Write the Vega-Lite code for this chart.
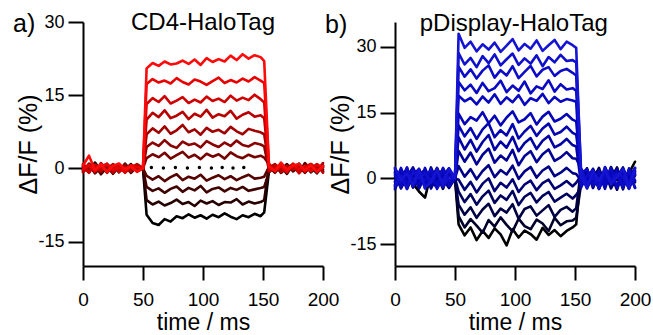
{
"$schema":"https://vega.github.io/schema/vega-lite/v6.json",
"padding":{"left":13,"top":11,"right":0,"bottom":0},
"autosize":{"type":"pad"},
"bounds":"flush",
"spacing":72,
"background":"white",
"resolve":{"scale":{"color":"independent","x":"independent","y":"independent"}},
"config":{
"view":{"stroke":null},
"font":"Liberation Sans",
"axis":{"domainColor":"#000","domainWidth":2,"tickColor":"#000","tickWidth":2,"labelColor":"#000","titleColor":"#000","titleFontWeight":"normal","grid":false,"labelFont":"Liberation Sans","titleFont":"Liberation Sans","labelFlush":false,"labelOverlap":false,"labelExpr":"replace(datum.label, '−', '-')"},
"axisX":{"tickSize":14,"labelFontSize":19,"labelPadding":10,"titleFontSize":23,"titlePadding":2},
"axisY":{"tickSize":15,"labelFontSize":18,"labelPadding":4,"titleFontSize":25,"titlePadding":-4}
},
"datasets":{
"a":[
{"s":1,"t":0,"v":0.3},{"s":1,"t":5,"v":-0.8},{"s":1,"t":10,"v":1.2},{"s":1,"t":15,"v":-0.5},{"s":1,"t":20,"v":0.6},{"s":1,"t":25,"v":-1.1},{"s":1,"t":30,"v":0.4},{"s":1,"t":35,"v":-0.3},{"s":1,"t":40,"v":0.9},{"s":1,"t":45,"v":-0.6},{"s":1,"t":50,"v":0},
{"s":1,"t":53,"v":-9.5},{"s":1,"t":58,"v":-11.2},{"s":1,"t":63,"v":-11.6},{"s":1,"t":68,"v":-10.4},{"s":1,"t":73,"v":-10.9},{"s":1,"t":78,"v":-9.8},{"s":1,"t":83,"v":-10.2},{"s":1,"t":88,"v":-9.4},{"s":1,"t":93,"v":-10.1},{"s":1,"t":98,"v":-9.6},{"s":1,"t":103,"v":-10.3},{"s":1,"t":108,"v":-9.5},{"s":1,"t":113,"v":-10},{"s":1,"t":118,"v":-9.2},{"s":1,"t":123,"v":-9.9},{"s":1,"t":128,"v":-10.4},{"s":1,"t":133,"v":-9.6},{"s":1,"t":138,"v":-10},{"s":1,"t":143,"v":-9.3},{"s":1,"t":148,"v":-9.8},{"s":1,"t":151,"v":-9},
{"s":1,"t":155,"v":-0.5},{"s":1,"t":160,"v":0.8},{"s":1,"t":165,"v":-0.9},{"s":1,"t":170,"v":0.4},{"s":1,"t":175,"v":-0.3},{"s":1,"t":180,"v":1},{"s":1,"t":185,"v":-0.7},{"s":1,"t":190,"v":0.2},{"s":1,"t":195,"v":-1},{"s":1,"t":200,"v":0.5},
{"s":2,"t":0,"v":-0.4},{"s":2,"t":5,"v":0.7},{"s":2,"t":10,"v":-1},{"s":2,"t":15,"v":0.3},{"s":2,"t":20,"v":-0.6},{"s":2,"t":25,"v":0.9},{"s":2,"t":30,"v":-0.2},{"s":2,"t":35,"v":0.5},{"s":2,"t":40,"v":-0.9},{"s":2,"t":45,"v":0.4},{"s":2,"t":50,"v":0},
{"s":2,"t":53,"v":-6.5},{"s":2,"t":58,"v":-7.4},{"s":2,"t":63,"v":-6.8},{"s":2,"t":68,"v":-7.6},{"s":2,"t":73,"v":-7.1},{"s":2,"t":78,"v":-6.4},{"s":2,"t":83,"v":-7.3},{"s":2,"t":88,"v":-6.9},{"s":2,"t":93,"v":-7.7},{"s":2,"t":98,"v":-6.6},{"s":2,"t":103,"v":-7.2},{"s":2,"t":108,"v":-6.7},{"s":2,"t":113,"v":-7.5},{"s":2,"t":118,"v":-6.9},{"s":2,"t":123,"v":-7},{"s":2,"t":128,"v":-6.3},{"s":2,"t":133,"v":-7.4},{"s":2,"t":138,"v":-6.8},{"s":2,"t":143,"v":-7.2},{"s":2,"t":148,"v":-6.9},{"s":2,"t":151,"v":-6.5},
{"s":2,"t":155,"v":0.6},{"s":2,"t":160,"v":-0.7},{"s":2,"t":165,"v":0.3},{"s":2,"t":170,"v":-1.1},{"s":2,"t":175,"v":0.8},{"s":2,"t":180,"v":-0.2},{"s":2,"t":185,"v":0.6},{"s":2,"t":190,"v":-0.8},{"s":2,"t":195,"v":0.4},{"s":2,"t":200,"v":-0.3},
{"s":3,"t":0,"v":0.8},{"s":3,"t":5,"v":-0.3},{"s":3,"t":10,"v":0.5},{"s":3,"t":15,"v":-1.2},{"s":3,"t":20,"v":0.2},{"s":3,"t":25,"v":0.7},{"s":3,"t":30,"v":-0.8},{"s":3,"t":35,"v":1},{"s":3,"t":40,"v":-0.4},{"s":3,"t":45,"v":0.3},{"s":3,"t":50,"v":0},
{"s":3,"t":53,"v":-3.8},{"s":3,"t":58,"v":-4.6},{"s":3,"t":63,"v":-4.1},{"s":3,"t":68,"v":-5},{"s":3,"t":73,"v":-4.2},{"s":3,"t":78,"v":-3.7},{"s":3,"t":83,"v":-4.8},{"s":3,"t":88,"v":-4},{"s":3,"t":93,"v":-4.5},{"s":3,"t":98,"v":-3.6},{"s":3,"t":103,"v":-4.9},{"s":3,"t":108,"v":-4.2},{"s":3,"t":113,"v":-3.9},{"s":3,"t":118,"v":-4.7},{"s":3,"t":123,"v":-4},{"s":3,"t":128,"v":-4.4},{"s":3,"t":133,"v":-3.8},{"s":3,"t":138,"v":-4.6},{"s":3,"t":143,"v":-4.3},{"s":3,"t":148,"v":-4},{"s":3,"t":151,"v":-3.8},
{"s":3,"t":155,"v":-0.8},{"s":3,"t":160,"v":0.4},{"s":3,"t":165,"v":-0.2},{"s":3,"t":170,"v":0.9},{"s":3,"t":175,"v":-0.6},{"s":3,"t":180,"v":0.3},{"s":3,"t":185,"v":-0.9},{"s":3,"t":190,"v":0.7},{"s":3,"t":195,"v":-0.1},{"s":3,"t":200,"v":0.6},
{"s":4,"t":0,"v":-0.6},{"s":4,"t":5,"v":1},{"s":4,"t":10,"v":-0.2},{"s":4,"t":15,"v":0.6},{"s":4,"t":20,"v":-0.9},{"s":4,"t":25,"v":0.4},{"s":4,"t":30,"v":0.2},{"s":4,"t":35,"v":-0.7},{"s":4,"t":40,"v":0.5},{"s":4,"t":45,"v":-0.2},{"s":4,"t":50,"v":0},
{"s":4,"t":53,"v":-1.5},{"s":4,"t":58,"v":-2.3},{"s":4,"t":63,"v":-1.6},{"s":4,"t":68,"v":-2.6},{"s":4,"t":73,"v":-1.8},{"s":4,"t":78,"v":-1.2},{"s":4,"t":83,"v":-2.4},{"s":4,"t":88,"v":-1.7},{"s":4,"t":93,"v":-2.1},{"s":4,"t":98,"v":-1.3},{"s":4,"t":103,"v":-2.5},{"s":4,"t":108,"v":-1.9},{"s":4,"t":113,"v":-1.4},{"s":4,"t":118,"v":-2.2},{"s":4,"t":123,"v":-1.6},{"s":4,"t":128,"v":-2.4},{"s":4,"t":133,"v":-1.8},{"s":4,"t":138,"v":-1.3},{"s":4,"t":143,"v":-2.1},{"s":4,"t":148,"v":-1.9},{"s":4,"t":151,"v":-1.7},
{"s":4,"t":155,"v":0.3},{"s":4,"t":160,"v":-0.9},{"s":4,"t":165,"v":0.7},{"s":4,"t":170,"v":-0.4},{"s":4,"t":175,"v":0.5},{"s":4,"t":180,"v":-0.8},{"s":4,"t":185,"v":1.1},{"s":4,"t":190,"v":-0.3},{"s":4,"t":195,"v":0.4},{"s":4,"t":200,"v":-0.6},
{"s":5,"t":0,"v":0.5},{"s":5,"t":5,"v":-0.7},{"s":5,"t":10,"v":0.9},{"s":5,"t":15,"v":-0.3},{"s":5,"t":20,"v":0.4},{"s":5,"t":25,"v":-1},{"s":5,"t":30,"v":0.7},{"s":5,"t":35,"v":-0.5},{"s":5,"t":40,"v":0.2},{"s":5,"t":45,"v":0.8},{"s":5,"t":50,"v":0},
{"s":5,"t":53,"v":2.1},{"s":5,"t":58,"v":2.9},{"s":5,"t":63,"v":2.3},{"s":5,"t":68,"v":3.2},{"s":5,"t":73,"v":2},{"s":5,"t":78,"v":2.7},{"s":5,"t":83,"v":3.4},{"s":5,"t":88,"v":2.2},{"s":5,"t":93,"v":2.8},{"s":5,"t":98,"v":1.9},{"s":5,"t":103,"v":3},{"s":5,"t":108,"v":2.4},{"s":5,"t":113,"v":2.9},{"s":5,"t":118,"v":2},{"s":5,"t":123,"v":3.3},{"s":5,"t":128,"v":2.5},{"s":5,"t":133,"v":2.1},{"s":5,"t":138,"v":2.8},{"s":5,"t":143,"v":2.3},{"s":5,"t":148,"v":2.6},{"s":5,"t":151,"v":2.2},
{"s":5,"t":155,"v":0.9},{"s":5,"t":160,"v":-0.4},{"s":5,"t":165,"v":0.2},{"s":5,"t":170,"v":-0.8},{"s":5,"t":175,"v":0.6},{"s":5,"t":180,"v":0.1},{"s":5,"t":185,"v":-0.6},{"s":5,"t":190,"v":0.9},{"s":5,"t":195,"v":-0.2},{"s":5,"t":200,"v":0.3},
{"s":6,"t":0,"v":-0.3},{"s":6,"t":5,"v":0.6},{"s":6,"t":10,"v":-0.9},{"s":6,"t":15,"v":1.1},{"s":6,"t":20,"v":-0.5},{"s":6,"t":25,"v":0.3},{"s":6,"t":30,"v":-0.2},{"s":6,"t":35,"v":0.8},{"s":6,"t":40,"v":-0.7},{"s":6,"t":45,"v":0.5},{"s":6,"t":50,"v":0},
{"s":6,"t":53,"v":4.4},{"s":6,"t":58,"v":5.3},{"s":6,"t":63,"v":4.6},{"s":6,"t":68,"v":5.8},{"s":6,"t":73,"v":4.7},{"s":6,"t":78,"v":4.2},{"s":6,"t":83,"v":5.5},{"s":6,"t":88,"v":4.8},{"s":6,"t":93,"v":5.1},{"s":6,"t":98,"v":4.3},{"s":6,"t":103,"v":5.6},{"s":6,"t":108,"v":4.9},{"s":6,"t":113,"v":4.4},{"s":6,"t":118,"v":5.3},{"s":6,"t":123,"v":4.6},{"s":6,"t":128,"v":5.7},{"s":6,"t":133,"v":4.8},{"s":6,"t":138,"v":4.5},{"s":6,"t":143,"v":5.2},{"s":6,"t":148,"v":4.9},{"s":6,"t":151,"v":4.5},
{"s":6,"t":155,"v":-0.4},{"s":6,"t":160,"v":0.7},{"s":6,"t":165,"v":-0.9},{"s":6,"t":170,"v":0.2},{"s":6,"t":175,"v":0.8},{"s":6,"t":180,"v":-0.5},{"s":6,"t":185,"v":0.3},{"s":6,"t":190,"v":-0.1},{"s":6,"t":195,"v":0.9},{"s":6,"t":200,"v":-0.7},
{"s":7,"t":0,"v":0.9},{"s":7,"t":5,"v":-0.2},{"s":7,"t":10,"v":0.4},{"s":7,"t":15,"v":-0.8},{"s":7,"t":20,"v":1},{"s":7,"t":25,"v":-0.4},{"s":7,"t":30,"v":0.6},{"s":7,"t":35,"v":-0.9},{"s":7,"t":40,"v":0.3},{"s":7,"t":45,"v":-0.1},{"s":7,"t":50,"v":0},
{"s":7,"t":53,"v":7},{"s":7,"t":58,"v":8.2},{"s":7,"t":63,"v":7.3},{"s":7,"t":68,"v":8.6},{"s":7,"t":73,"v":7.1},{"s":7,"t":78,"v":7.8},{"s":7,"t":83,"v":8.9},{"s":7,"t":88,"v":7.4},{"s":7,"t":93,"v":8},{"s":7,"t":98,"v":6.9},{"s":7,"t":103,"v":8.3},{"s":7,"t":108,"v":7.5},{"s":7,"t":113,"v":7.9},{"s":7,"t":118,"v":7.2},{"s":7,"t":123,"v":8.5},{"s":7,"t":128,"v":7.6},{"s":7,"t":133,"v":7},{"s":7,"t":138,"v":8.1},{"s":7,"t":143,"v":7.7},{"s":7,"t":148,"v":7.4},{"s":7,"t":151,"v":7},
{"s":7,"t":155,"v":0.5},{"s":7,"t":160,"v":-0.3},{"s":7,"t":165,"v":1},{"s":7,"t":170,"v":-0.6},{"s":7,"t":175,"v":0.2},{"s":7,"t":180,"v":0.7},{"s":7,"t":185,"v":-0.8},{"s":7,"t":190,"v":0.4},{"s":7,"t":195,"v":-0.5},{"s":7,"t":200,"v":1.1},
{"s":8,"t":0,"v":-0.8},{"s":8,"t":5,"v":0.4},{"s":8,"t":10,"v":0.1},{"s":8,"t":15,"v":-0.5},{"s":8,"t":20,"v":0.7},{"s":8,"t":25,"v":-0.9},{"s":8,"t":30,"v":0.5},{"s":8,"t":35,"v":0.3},{"s":8,"t":40,"v":-0.6},{"s":8,"t":45,"v":0.9},{"s":8,"t":50,"v":0},
{"s":8,"t":53,"v":10},{"s":8,"t":58,"v":11.4},{"s":8,"t":63,"v":10.5},{"s":8,"t":68,"v":11.9},{"s":8,"t":73,"v":10.3},{"s":8,"t":78,"v":10.8},{"s":8,"t":83,"v":11.6},{"s":8,"t":88,"v":10.1},{"s":8,"t":93,"v":11.2},{"s":8,"t":98,"v":10.6},{"s":8,"t":103,"v":12},{"s":8,"t":108,"v":10.4},{"s":8,"t":113,"v":11.1},{"s":8,"t":118,"v":10.7},{"s":8,"t":123,"v":11.8},{"s":8,"t":128,"v":10.2},{"s":8,"t":133,"v":11},{"s":8,"t":138,"v":11.5},{"s":8,"t":143,"v":10.6},{"s":8,"t":148,"v":10.9},{"s":8,"t":151,"v":10.3},
{"s":8,"t":155,"v":0.2},{"s":8,"t":160,"v":0.9},{"s":8,"t":165,"v":-0.7},{"s":8,"t":170,"v":0.5},{"s":8,"t":175,"v":-0.3},{"s":8,"t":180,"v":0.8},{"s":8,"t":185,"v":-0.6},{"s":8,"t":190,"v":0.1},{"s":8,"t":195,"v":0.7},{"s":8,"t":200,"v":-0.9},
{"s":9,"t":0,"v":0.4},{"s":9,"t":5,"v":-0.9},{"s":9,"t":10,"v":0.7},{"s":9,"t":15,"v":0.2},{"s":9,"t":20,"v":-0.4},{"s":9,"t":25,"v":0.8},{"s":9,"t":30,"v":-0.7},{"s":9,"t":35,"v":0.1},{"s":9,"t":40,"v":0.6},{"s":9,"t":45,"v":-0.5},{"s":9,"t":50,"v":0},
{"s":9,"t":53,"v":13.2},{"s":9,"t":58,"v":14.4},{"s":9,"t":63,"v":13.6},{"s":9,"t":68,"v":14.8},{"s":9,"t":73,"v":13.3},{"s":9,"t":78,"v":13.9},{"s":9,"t":83,"v":14.6},{"s":9,"t":88,"v":13.4},{"s":9,"t":93,"v":14.1},{"s":9,"t":98,"v":13.5},{"s":9,"t":103,"v":14.7},{"s":9,"t":108,"v":13.8},{"s":9,"t":113,"v":14.3},{"s":9,"t":118,"v":13.6},{"s":9,"t":123,"v":14.9},{"s":9,"t":128,"v":13.9},{"s":9,"t":133,"v":14.5},{"s":9,"t":138,"v":14},{"s":9,"t":143,"v":15.1},{"s":9,"t":148,"v":14.2},{"s":9,"t":151,"v":13.5},
{"s":9,"t":155,"v":-0.6},{"s":9,"t":160,"v":0.3},{"s":9,"t":165,"v":0.8},{"s":9,"t":170,"v":-0.4},{"s":9,"t":175,"v":0.6},{"s":9,"t":180,"v":-1},{"s":9,"t":185,"v":0.4},{"s":9,"t":190,"v":0.9},{"s":9,"t":195,"v":-0.3},{"s":9,"t":200,"v":0.2},
{"s":10,"t":0,"v":-0.2},{"s":10,"t":5,"v":0.8},{"s":10,"t":10,"v":-0.6},{"s":10,"t":15,"v":0.5},{"s":10,"t":20,"v":0.9},{"s":10,"t":25,"v":-0.3},{"s":10,"t":30,"v":0.2},{"s":10,"t":35,"v":-0.8},{"s":10,"t":40,"v":0.7},{"s":10,"t":45,"v":0.3},{"s":10,"t":50,"v":0},
{"s":10,"t":53,"v":17.3},{"s":10,"t":58,"v":18.3},{"s":10,"t":63,"v":17.6},{"s":10,"t":68,"v":18},{"s":10,"t":73,"v":17.4},{"s":10,"t":78,"v":18.5},{"s":10,"t":83,"v":17.7},{"s":10,"t":88,"v":17.2},{"s":10,"t":93,"v":18.2},{"s":10,"t":98,"v":17.8},{"s":10,"t":103,"v":17.1},{"s":10,"t":108,"v":17.9},{"s":10,"t":113,"v":18.6},{"s":10,"t":118,"v":17.5},{"s":10,"t":123,"v":18.1},{"s":10,"t":128,"v":17.6},{"s":10,"t":133,"v":18.4},{"s":10,"t":138,"v":17.8},{"s":10,"t":143,"v":18.7},{"s":10,"t":148,"v":18},{"s":10,"t":151,"v":17.5},
{"s":10,"t":155,"v":0.7},{"s":10,"t":160,"v":-0.5},{"s":10,"t":165,"v":0.4},{"s":10,"t":170,"v":-0.8},{"s":10,"t":175,"v":1},{"s":10,"t":180,"v":-0.2},{"s":10,"t":185,"v":0.5},{"s":10,"t":190,"v":-0.6},{"s":10,"t":195,"v":0.8},{"s":10,"t":200,"v":0.1},
{"s":11,"t":0,"v":0.6},{"s":11,"t":5,"v":2.6},{"s":11,"t":10,"v":-0.4},{"s":11,"t":15,"v":0.9},{"s":11,"t":20,"v":-0.8},{"s":11,"t":25,"v":0.5},{"s":11,"t":30,"v":1},{"s":11,"t":35,"v":-0.2},{"s":11,"t":40,"v":0.4},{"s":11,"t":45,"v":-0.7},{"s":11,"t":50,"v":0},
{"s":11,"t":53,"v":20.5},{"s":11,"t":58,"v":21.6},{"s":11,"t":63,"v":21},{"s":11,"t":68,"v":21.9},{"s":11,"t":73,"v":21.3},{"s":11,"t":78,"v":21.5},{"s":11,"t":83,"v":22.1},{"s":11,"t":88,"v":21.4},{"s":11,"t":93,"v":22.3},{"s":11,"t":98,"v":21.2},{"s":11,"t":103,"v":22.6},{"s":11,"t":108,"v":21.8},{"s":11,"t":113,"v":22.4},{"s":11,"t":118,"v":21.9},{"s":11,"t":123,"v":23.1},{"s":11,"t":128,"v":22.2},{"s":11,"t":133,"v":23.4},{"s":11,"t":138,"v":22.5},{"s":11,"t":143,"v":23.2},{"s":11,"t":148,"v":22.8},{"s":11,"t":151,"v":22},
{"s":11,"t":155,"v":0.4},{"s":11,"t":160,"v":-0.6},{"s":11,"t":165,"v":1.2},{"s":11,"t":170,"v":-0.3},{"s":11,"t":175,"v":0.6},{"s":11,"t":180,"v":0.9},{"s":11,"t":185,"v":-0.5},{"s":11,"t":190,"v":0.7},{"s":11,"t":195,"v":-0.8},{"s":11,"t":200,"v":0.5}
],
"b":[
{"s":1,"t":0,"v":1.5},{"s":1,"t":5,"v":-2},{"s":1,"t":10,"v":0.8},{"s":1,"t":15,"v":-1.2},{"s":1,"t":20,"v":-3},{"s":1,"t":25,"v":-4.4},{"s":1,"t":30,"v":1},{"s":1,"t":35,"v":-1.5},{"s":1,"t":40,"v":2.2},{"s":1,"t":45,"v":-0.8},{"s":1,"t":50,"v":0},
{"s":1,"t":53,"v":-10.5},{"s":1,"t":58,"v":-13},{"s":1,"t":63,"v":-11.2},{"s":1,"t":68,"v":-14.1},{"s":1,"t":73,"v":-12},{"s":1,"t":78,"v":-13.6},{"s":1,"t":83,"v":-11.4},{"s":1,"t":88,"v":-12.8},{"s":1,"t":93,"v":-15.3},{"s":1,"t":98,"v":-11.6},{"s":1,"t":103,"v":-13.5},{"s":1,"t":108,"v":-11.9},{"s":1,"t":113,"v":-12.7},{"s":1,"t":118,"v":-14},{"s":1,"t":123,"v":-11.3},{"s":1,"t":128,"v":-12.9},{"s":1,"t":133,"v":-11.8},{"s":1,"t":138,"v":-13.2},{"s":1,"t":143,"v":-12},{"s":1,"t":148,"v":-11.2},{"s":1,"t":151,"v":-10.5},
{"s":1,"t":155,"v":2},{"s":1,"t":160,"v":-1.6},{"s":1,"t":165,"v":0.9},{"s":1,"t":170,"v":-2.4},{"s":1,"t":175,"v":1.7},{"s":1,"t":180,"v":-0.7},{"s":1,"t":185,"v":2.5},{"s":1,"t":190,"v":-1.9},{"s":1,"t":195,"v":1.2},{"s":1,"t":200,"v":3.8},
{"s":2,"t":0,"v":-1.8},{"s":2,"t":5,"v":2.1},{"s":2,"t":10,"v":-0.6},{"s":2,"t":15,"v":1.4},{"s":2,"t":20,"v":-2.3},{"s":2,"t":25,"v":0.9},{"s":2,"t":30,"v":-1.2},{"s":2,"t":35,"v":2.4},{"s":2,"t":40,"v":-0.5},{"s":2,"t":45,"v":1.1},{"s":2,"t":50,"v":0},
{"s":2,"t":53,"v":-8.6},{"s":2,"t":58,"v":-11.2},{"s":2,"t":63,"v":-9.3},{"s":2,"t":68,"v":-10.8},{"s":2,"t":73,"v":-12.4},{"s":2,"t":78,"v":-9.5},{"s":2,"t":83,"v":-11},{"s":2,"t":88,"v":-8.9},{"s":2,"t":93,"v":-10.6},{"s":2,"t":98,"v":-12.1},{"s":2,"t":103,"v":-9.2},{"s":2,"t":108,"v":-10.9},{"s":2,"t":113,"v":-11.6},{"s":2,"t":118,"v":-9.4},{"s":2,"t":123,"v":-10.3},{"s":2,"t":128,"v":-12},{"s":2,"t":133,"v":-9},{"s":2,"t":138,"v":-10.7},{"s":2,"t":143,"v":-9.8},{"s":2,"t":148,"v":-9.6},{"s":2,"t":151,"v":-9},
{"s":2,"t":155,"v":-1.4},{"s":2,"t":160,"v":2.3},{"s":2,"t":165,"v":-2},{"s":2,"t":170,"v":0.8},{"s":2,"t":175,"v":-1.1},{"s":2,"t":180,"v":2.6},{"s":2,"t":185,"v":-0.4},{"s":2,"t":190,"v":1.5},{"s":2,"t":195,"v":-2.2},{"s":2,"t":200,"v":0.7},
{"s":3,"t":0,"v":2.3},{"s":3,"t":5,"v":-0.9},{"s":3,"t":10,"v":1.6},{"s":3,"t":15,"v":-2.1},{"s":3,"t":20,"v":0.5},{"s":3,"t":25,"v":2},{"s":3,"t":30,"v":-1.7},{"s":3,"t":35,"v":0.7},{"s":3,"t":40,"v":-2.4},{"s":3,"t":45,"v":1.3},{"s":3,"t":50,"v":0},
{"s":3,"t":53,"v":-6},{"s":3,"t":58,"v":-8.3},{"s":3,"t":63,"v":-6.6},{"s":3,"t":68,"v":-9},{"s":3,"t":73,"v":-7.1},{"s":3,"t":78,"v":-5.8},{"s":3,"t":83,"v":-8.6},{"s":3,"t":88,"v":-6.9},{"s":3,"t":93,"v":-7.8},{"s":3,"t":98,"v":-5.9},{"s":3,"t":103,"v":-9.2},{"s":3,"t":108,"v":-7},{"s":3,"t":113,"v":-6.4},{"s":3,"t":118,"v":-8.5},{"s":3,"t":123,"v":-7.3},{"s":3,"t":128,"v":-6.1},{"s":3,"t":133,"v":-8.8},{"s":3,"t":138,"v":-7.2},{"s":3,"t":143,"v":-6.5},{"s":3,"t":148,"v":-7.6},{"s":3,"t":151,"v":-6.8},
{"s":3,"t":155,"v":1.8},{"s":3,"t":160,"v":-2.2},{"s":3,"t":165,"v":0.4},{"s":3,"t":170,"v":2.1},{"s":3,"t":175,"v":-1},{"s":3,"t":180,"v":-0.3},{"s":3,"t":185,"v":1.6},{"s":3,"t":190,"v":-2.5},{"s":3,"t":195,"v":2},{"s":3,"t":200,"v":-0.9},
{"s":4,"t":0,"v":-0.7},{"s":4,"t":5,"v":1.9},{"s":4,"t":10,"v":-2.4},{"s":4,"t":15,"v":0.6},{"s":4,"t":20,"v":1.7},{"s":4,"t":25,"v":-1.4},{"s":4,"t":30,"v":2.5},{"s":4,"t":35,"v":-0.8},{"s":4,"t":40,"v":1},{"s":4,"t":45,"v":-1.9},{"s":4,"t":50,"v":0},
{"s":4,"t":53,"v":-3},{"s":4,"t":58,"v":-5.4},{"s":4,"t":63,"v":-3.6},{"s":4,"t":68,"v":-6},{"s":4,"t":73,"v":-4.1},{"s":4,"t":78,"v":-2.8},{"s":4,"t":83,"v":-5.6},{"s":4,"t":88,"v":-3.9},{"s":4,"t":93,"v":-4.9},{"s":4,"t":98,"v":-2.9},{"s":4,"t":103,"v":-6.1},{"s":4,"t":108,"v":-4.2},{"s":4,"t":113,"v":-3.3},{"s":4,"t":118,"v":-5.5},{"s":4,"t":123,"v":-4},{"s":4,"t":128,"v":-3.1},{"s":4,"t":133,"v":-5.3},{"s":4,"t":138,"v":-4.4},{"s":4,"t":143,"v":-3.5},{"s":4,"t":148,"v":-4.6},{"s":4,"t":151,"v":-3.8},
{"s":4,"t":155,"v":-2.1},{"s":4,"t":160,"v":1.2},{"s":4,"t":165,"v":-0.6},{"s":4,"t":170,"v":2.4},{"s":4,"t":175,"v":-1.5},{"s":4,"t":180,"v":0.9},{"s":4,"t":185,"v":-2.6},{"s":4,"t":190,"v":1.4},{"s":4,"t":195,"v":-0.2},{"s":4,"t":200,"v":2.2},
{"s":5,"t":0,"v":1},{"s":5,"t":5,"v":-2.3},{"s":5,"t":10,"v":0.4},{"s":5,"t":15,"v":2.5},{"s":5,"t":20,"v":-1.1},{"s":5,"t":25,"v":-0.3},{"s":5,"t":30,"v":1.8},{"s":5,"t":35,"v":-2},{"s":5,"t":40,"v":0.6},{"s":5,"t":45,"v":2.3},{"s":5,"t":50,"v":0},
{"s":5,"t":53,"v":-0.3},{"s":5,"t":58,"v":-2.6},{"s":5,"t":63,"v":-0.8},{"s":5,"t":68,"v":-3.2},{"s":5,"t":73,"v":-1.2},{"s":5,"t":78,"v":0},{"s":5,"t":83,"v":-2.9},{"s":5,"t":88,"v":-1},{"s":5,"t":93,"v":-2.1},{"s":5,"t":98,"v":-0.2},{"s":5,"t":103,"v":-3.1},{"s":5,"t":108,"v":-1.4},{"s":5,"t":113,"v":-0.5},{"s":5,"t":118,"v":-2.7},{"s":5,"t":123,"v":-1.1},{"s":5,"t":128,"v":-0.3},{"s":5,"t":133,"v":-2.4},{"s":5,"t":138,"v":-1.6},{"s":5,"t":143,"v":-0.6},{"s":5,"t":148,"v":-1.8},{"s":5,"t":151,"v":-1},
{"s":5,"t":155,"v":0.6},{"s":5,"t":160,"v":-1.8},{"s":5,"t":165,"v":2.2},{"s":5,"t":170,"v":-0.9},{"s":5,"t":175,"v":1.4},{"s":5,"t":180,"v":-2.3},{"s":5,"t":185,"v":0.3},{"s":5,"t":190,"v":2.5},{"s":5,"t":195,"v":-1.2},{"s":5,"t":200,"v":0.8},
{"s":6,"t":0,"v":-2.5},{"s":6,"t":5,"v":0.8},{"s":6,"t":10,"v":1.9},{"s":6,"t":15,"v":-1.5},{"s":6,"t":20,"v":2.2},{"s":6,"t":25,"v":-0.6},{"s":6,"t":30,"v":-1.9},{"s":6,"t":35,"v":1.3},{"s":6,"t":40,"v":-0.2},{"s":6,"t":45,"v":-2.2},{"s":6,"t":50,"v":0},
{"s":6,"t":53,"v":2.8},{"s":6,"t":58,"v":0.4},{"s":6,"t":63,"v":2.1},{"s":6,"t":68,"v":-0.2},{"s":6,"t":73,"v":1.7},{"s":6,"t":78,"v":3},{"s":6,"t":83,"v":0.3},{"s":6,"t":88,"v":1.9},{"s":6,"t":93,"v":0.9},{"s":6,"t":98,"v":2.9},{"s":6,"t":103,"v":-0.1},{"s":6,"t":108,"v":1.6},{"s":6,"t":113,"v":2.6},{"s":6,"t":118,"v":0.2},{"s":6,"t":123,"v":1.8},{"s":6,"t":128,"v":2.7},{"s":6,"t":133,"v":0.5},{"s":6,"t":138,"v":1.3},{"s":6,"t":143,"v":2.4},{"s":6,"t":148,"v":1.2},{"s":6,"t":151,"v":1},
{"s":6,"t":155,"v":-0.5},{"s":6,"t":160,"v":2},{"s":6,"t":165,"v":-2.2},{"s":6,"t":170,"v":1.1},{"s":6,"t":175,"v":-1.4},{"s":6,"t":180,"v":0.3},{"s":6,"t":185,"v":2.3},{"s":6,"t":190,"v":-1.8},{"s":6,"t":195,"v":1.5},{"s":6,"t":200,"v":-0.6},
{"s":7,"t":0,"v":0.3},{"s":7,"t":5,"v":1.6},{"s":7,"t":10,"v":-1.7},{"s":7,"t":15,"v":2.3},{"s":7,"t":20,"v":-0.4},{"s":7,"t":25,"v":1.1},{"s":7,"t":30,"v":-2.3},{"s":7,"t":35,"v":0.6},{"s":7,"t":40,"v":2},{"s":7,"t":45,"v":-1},{"s":7,"t":50,"v":0},
{"s":7,"t":53,"v":6.3},{"s":7,"t":58,"v":3.8},{"s":7,"t":63,"v":5.9},{"s":7,"t":68,"v":3.2},{"s":7,"t":73,"v":5.4},{"s":7,"t":78,"v":6.8},{"s":7,"t":83,"v":3.6},{"s":7,"t":88,"v":5.2},{"s":7,"t":93,"v":4.1},{"s":7,"t":98,"v":6.5},{"s":7,"t":103,"v":3},{"s":7,"t":108,"v":5.1},{"s":7,"t":113,"v":6.2},{"s":7,"t":118,"v":3.7},{"s":7,"t":123,"v":5.5},{"s":7,"t":128,"v":6.6},{"s":7,"t":133,"v":4},{"s":7,"t":138,"v":4.8},{"s":7,"t":143,"v":6},{"s":7,"t":148,"v":4.6},{"s":7,"t":151,"v":4.5},
{"s":7,"t":155,"v":2.3},{"s":7,"t":160,"v":-0.8},{"s":7,"t":165,"v":1},{"s":7,"t":170,"v":-2},{"s":7,"t":175,"v":2.6},{"s":7,"t":180,"v":-0.4},{"s":7,"t":185,"v":-1.6},{"s":7,"t":190,"v":0.9},{"s":7,"t":195,"v":-2.3},{"s":7,"t":200,"v":1.7},
{"s":8,"t":0,"v":-1.4},{"s":8,"t":5,"v":-0.2},{"s":8,"t":10,"v":2.4},{"s":8,"t":15,"v":-2},{"s":8,"t":20,"v":0.9},{"s":8,"t":25,"v":1.8},{"s":8,"t":30,"v":-0.7},{"s":8,"t":35,"v":-2.1},{"s":8,"t":40,"v":1.5},{"s":8,"t":45,"v":0.4},{"s":8,"t":50,"v":0},
{"s":8,"t":53,"v":9.4},{"s":8,"t":58,"v":6.6},{"s":8,"t":63,"v":8.8},{"s":8,"t":68,"v":6.1},{"s":8,"t":73,"v":8.3},{"s":8,"t":78,"v":9.9},{"s":8,"t":83,"v":6.5},{"s":8,"t":88,"v":8.4},{"s":8,"t":93,"v":7},{"s":8,"t":98,"v":9.5},{"s":8,"t":103,"v":6.2},{"s":8,"t":108,"v":8.1},{"s":8,"t":113,"v":9.2},{"s":8,"t":118,"v":6.7},{"s":8,"t":123,"v":8.6},{"s":8,"t":128,"v":9.7},{"s":8,"t":133,"v":7.1},{"s":8,"t":138,"v":7.8},{"s":8,"t":143,"v":9},{"s":8,"t":148,"v":7.6},{"s":8,"t":151,"v":7.3},
{"s":8,"t":155,"v":-1.2},{"s":8,"t":160,"v":1.9},{"s":8,"t":165,"v":-0.3},{"s":8,"t":170,"v":1.3},{"s":8,"t":175,"v":-2.4},{"s":8,"t":180,"v":2.1},{"s":8,"t":185,"v":0.6},{"s":8,"t":190,"v":-1.5},{"s":8,"t":195,"v":0.2},{"s":8,"t":200,"v":2.4},
{"s":9,"t":0,"v":2},{"s":9,"t":5,"v":-1.5},{"s":9,"t":10,"v":0.2},{"s":9,"t":15,"v":1.2},{"s":9,"t":20,"v":-2.2},{"s":9,"t":25,"v":0.4},{"s":9,"t":30,"v":1.6},{"s":9,"t":35,"v":-1},{"s":9,"t":40,"v":-0.3},{"s":9,"t":45,"v":1.9},{"s":9,"t":50,"v":0},
{"s":9,"t":53,"v":12.1},{"s":9,"t":58,"v":9.6},{"s":9,"t":63,"v":11.5},{"s":9,"t":68,"v":9},{"s":9,"t":73,"v":11.2},{"s":9,"t":78,"v":12.6},{"s":9,"t":83,"v":9.4},{"s":9,"t":88,"v":11},{"s":9,"t":93,"v":9.8},{"s":9,"t":98,"v":12.4},{"s":9,"t":103,"v":9.1},{"s":9,"t":108,"v":10.7},{"s":9,"t":113,"v":12},{"s":9,"t":118,"v":9.7},{"s":9,"t":123,"v":11.4},{"s":9,"t":128,"v":12.5},{"s":9,"t":133,"v":10},{"s":9,"t":138,"v":10.6},{"s":9,"t":143,"v":11.8},{"s":9,"t":148,"v":10.4},{"s":9,"t":151,"v":10},
{"s":9,"t":155,"v":1.5},{"s":9,"t":160,"v":-2},{"s":9,"t":165,"v":0.7},{"s":9,"t":170,"v":-0.6},{"s":9,"t":175,"v":1.8},{"s":9,"t":180,"v":-1.3},{"s":9,"t":185,"v":2},{"s":9,"t":190,"v":-0.9},{"s":9,"t":195,"v":1.1},{"s":9,"t":200,"v":-2.1},
{"s":10,"t":0,"v":-2.2},{"s":10,"t":5,"v":0.9},{"s":10,"t":10,"v":-0.5},{"s":10,"t":15,"v":2.2},{"s":10,"t":20,"v":0.3},{"s":10,"t":25,"v":-1.6},{"s":10,"t":30,"v":0.8},{"s":10,"t":35,"v":2.1},{"s":10,"t":40,"v":-1.8},{"s":10,"t":45,"v":0.6},{"s":10,"t":50,"v":0},
{"s":10,"t":53,"v":14.8},{"s":10,"t":58,"v":12.4},{"s":10,"t":63,"v":14},{"s":10,"t":68,"v":13.2},{"s":10,"t":73,"v":15.1},{"s":10,"t":78,"v":12.6},{"s":10,"t":83,"v":14.3},{"s":10,"t":88,"v":12.1},{"s":10,"t":93,"v":13.9},{"s":10,"t":98,"v":15.3},{"s":10,"t":103,"v":12.8},{"s":10,"t":108,"v":13.5},{"s":10,"t":113,"v":14.9},{"s":10,"t":118,"v":12.3},{"s":10,"t":123,"v":14.1},{"s":10,"t":128,"v":15.2},{"s":10,"t":133,"v":13},{"s":10,"t":138,"v":13.6},{"s":10,"t":143,"v":14.7},{"s":10,"t":148,"v":13.4},{"s":10,"t":151,"v":13},
{"s":10,"t":155,"v":0.9},{"s":10,"t":160,"v":-1.5},{"s":10,"t":165,"v":1.9},{"s":10,"t":170,"v":-2.4},{"s":10,"t":175,"v":0.5},{"s":10,"t":180,"v":1.3},{"s":10,"t":185,"v":-2},{"s":10,"t":190,"v":2.2},{"s":10,"t":195,"v":-0.4},{"s":10,"t":200,"v":1},
{"s":11,"t":0,"v":1.3},{"s":11,"t":5,"v":-2.1},{"s":11,"t":10,"v":2},{"s":11,"t":15,"v":-0.3},{"s":11,"t":20,"v":-1.3},{"s":11,"t":25,"v":2.4},{"s":11,"t":30,"v":-0.9},{"s":11,"t":35,"v":0.5},{"s":11,"t":40,"v":1.4},{"s":11,"t":45,"v":-1.7},{"s":11,"t":50,"v":0},
{"s":11,"t":53,"v":18.9},{"s":11,"t":58,"v":17.6},{"s":11,"t":63,"v":18.4},{"s":11,"t":68,"v":16.9},{"s":11,"t":73,"v":18.7},{"s":11,"t":78,"v":17.3},{"s":11,"t":83,"v":19.2},{"s":11,"t":88,"v":17},{"s":11,"t":93,"v":18.5},{"s":11,"t":98,"v":17.4},{"s":11,"t":103,"v":19},{"s":11,"t":108,"v":16.8},{"s":11,"t":113,"v":18.3},{"s":11,"t":118,"v":17.7},{"s":11,"t":123,"v":19.3},{"s":11,"t":128,"v":17.2},{"s":11,"t":133,"v":18.6},{"s":11,"t":138,"v":17.5},{"s":11,"t":143,"v":18.1},{"s":11,"t":148,"v":17.8},{"s":11,"t":151,"v":17.5},
{"s":11,"t":155,"v":-2},{"s":11,"t":160,"v":0.4},{"s":11,"t":165,"v":-0.8},{"s":11,"t":170,"v":1.7},{"s":11,"t":175,"v":-1.9},{"s":11,"t":180,"v":0.6},{"s":11,"t":185,"v":1.3},{"s":11,"t":190,"v":-2.2},{"s":11,"t":195,"v":2.3},{"s":11,"t":200,"v":-0.5},
{"s":12,"t":0,"v":-0.9},{"s":12,"t":5,"v":2.4},{"s":12,"t":10,"v":-1.3},{"s":12,"t":15,"v":1},{"s":12,"t":20,"v":2.1},{"s":12,"t":25,"v":-2.3},{"s":12,"t":30,"v":0.2},{"s":12,"t":35,"v":-1.4},{"s":12,"t":40,"v":2.4},{"s":12,"t":45,"v":-0.6},{"s":12,"t":50,"v":0},
{"s":12,"t":53,"v":22},{"s":12,"t":58,"v":20.1},{"s":12,"t":63,"v":21.4},{"s":12,"t":68,"v":19.5},{"s":12,"t":73,"v":21.8},{"s":12,"t":78,"v":19.9},{"s":12,"t":83,"v":20.6},{"s":12,"t":88,"v":22.3},{"s":12,"t":93,"v":19.7},{"s":12,"t":98,"v":21.2},{"s":12,"t":103,"v":20},{"s":12,"t":108,"v":22.1},{"s":12,"t":113,"v":19.4},{"s":12,"t":118,"v":21},{"s":12,"t":123,"v":20.4},{"s":12,"t":128,"v":22.4},{"s":12,"t":133,"v":19.8},{"s":12,"t":138,"v":21.5},{"s":12,"t":143,"v":20.3},{"s":12,"t":148,"v":20.6},{"s":12,"t":151,"v":20},
{"s":12,"t":155,"v":1.2},{"s":12,"t":160,"v":2.1},{"s":12,"t":165,"v":-1.7},{"s":12,"t":170,"v":0.2},{"s":12,"t":175,"v":-0.9},{"s":12,"t":180,"v":2.4},{"s":12,"t":185,"v":-2.1},{"s":12,"t":190,"v":0.8},{"s":12,"t":195,"v":-1.1},{"s":12,"t":200,"v":1.6},
{"s":13,"t":0,"v":0.7},{"s":13,"t":5,"v":-1.2},{"s":13,"t":10,"v":2.5},{"s":13,"t":15,"v":-1.8},{"s":13,"t":20,"v":0.9},{"s":13,"t":25,"v":-0.5},{"s":13,"t":30,"v":2.2},{"s":13,"t":35,"v":-2.4},{"s":13,"t":40,"v":0.1},{"s":13,"t":45,"v":1.5},{"s":13,"t":50,"v":0},
{"s":13,"t":53,"v":25.5},{"s":13,"t":58,"v":23.2},{"s":13,"t":63,"v":24.9},{"s":13,"t":68,"v":22.8},{"s":13,"t":73,"v":24.6},{"s":13,"t":78,"v":25.8},{"s":13,"t":83,"v":23},{"s":13,"t":88,"v":24.7},{"s":13,"t":93,"v":23.5},{"s":13,"t":98,"v":25.6},{"s":13,"t":103,"v":22.9},{"s":13,"t":108,"v":24.3},{"s":13,"t":113,"v":25.7},{"s":13,"t":118,"v":23.3},{"s":13,"t":123,"v":24.8},{"s":13,"t":128,"v":25.4},{"s":13,"t":133,"v":23.4},{"s":13,"t":138,"v":24.5},{"s":13,"t":143,"v":25},{"s":13,"t":148,"v":24.1},{"s":13,"t":151,"v":23.5},
{"s":13,"t":155,"v":-1.6},{"s":13,"t":160,"v":0.5},{"s":13,"t":165,"v":2},{"s":13,"t":170,"v":-2.3},{"s":13,"t":175,"v":1.4},{"s":13,"t":180,"v":-0.4},{"s":13,"t":185,"v":0.9},{"s":13,"t":190,"v":-1.8},{"s":13,"t":195,"v":1.9},{"s":13,"t":200,"v":-2.2},
{"s":14,"t":0,"v":-1.7},{"s":14,"t":5,"v":0.6},{"s":14,"t":10,"v":-2.4},{"s":14,"t":15,"v":1.7},{"s":14,"t":20,"v":-0.1},{"s":14,"t":25,"v":1.2},{"s":14,"t":30,"v":-1.1},{"s":14,"t":35,"v":2.3},{"s":14,"t":40,"v":-2},{"s":14,"t":45,"v":0.3},{"s":14,"t":50,"v":0},
{"s":14,"t":53,"v":28.6},{"s":14,"t":58,"v":26},{"s":14,"t":63,"v":27.5},{"s":14,"t":68,"v":25.4},{"s":14,"t":73,"v":27.9},{"s":14,"t":78,"v":26.3},{"s":14,"t":83,"v":28.3},{"s":14,"t":88,"v":25.8},{"s":14,"t":93,"v":27.2},{"s":14,"t":98,"v":28.5},{"s":14,"t":103,"v":25.9},{"s":14,"t":108,"v":27.4},{"s":14,"t":113,"v":26.2},{"s":14,"t":118,"v":28.1},{"s":14,"t":123,"v":25.6},{"s":14,"t":128,"v":27.7},{"s":14,"t":133,"v":26.5},{"s":14,"t":138,"v":28.2},{"s":14,"t":143,"v":26.8},{"s":14,"t":148,"v":27},{"s":14,"t":151,"v":26.5},
{"s":14,"t":155,"v":2.2},{"s":14,"t":160,"v":-1},{"s":14,"t":165,"v":0.3},{"s":14,"t":170,"v":-1.9},{"s":14,"t":175,"v":2.5},{"s":14,"t":180,"v":-0.7},{"s":14,"t":185,"v":1.1},{"s":14,"t":190,"v":0.4},{"s":14,"t":195,"v":-2.4},{"s":14,"t":200,"v":1.3},
{"s":15,"t":0,"v":2.4},{"s":15,"t":5,"v":-0.4},{"s":15,"t":10,"v":1.1},{"s":15,"t":15,"v":-1.6},{"s":15,"t":20,"v":2},{"s":15,"t":25,"v":-2.2},{"s":15,"t":30,"v":-0.8},{"s":15,"t":35,"v":1.8},{"s":15,"t":40,"v":-1.3},{"s":15,"t":45,"v":2.3},{"s":15,"t":50,"v":0},
{"s":15,"t":53,"v":33},{"s":15,"t":58,"v":29.8},{"s":15,"t":63,"v":31.2},{"s":15,"t":68,"v":29},{"s":15,"t":73,"v":30.6},{"s":15,"t":78,"v":29.4},{"s":15,"t":83,"v":31},{"s":15,"t":88,"v":28.9},{"s":15,"t":93,"v":30.3},{"s":15,"t":98,"v":31.8},{"s":15,"t":103,"v":29.2},{"s":15,"t":108,"v":30.7},{"s":15,"t":113,"v":29.6},{"s":15,"t":118,"v":31.5},{"s":15,"t":123,"v":29.1},{"s":15,"t":128,"v":30.4},{"s":15,"t":133,"v":31.6},{"s":15,"t":138,"v":29.5},{"s":15,"t":143,"v":31.2},{"s":15,"t":148,"v":30.4},{"s":15,"t":151,"v":29.8},
{"s":15,"t":155,"v":0.8},{"s":15,"t":160,"v":-2.3},{"s":15,"t":165,"v":1.6},{"s":15,"t":170,"v":-0.6},{"s":15,"t":175,"v":2},{"s":15,"t":180,"v":-1.4},{"s":15,"t":185,"v":0.3},{"s":15,"t":190,"v":2.2},{"s":15,"t":195,"v":-1.9},{"s":15,"t":200,"v":2.4}
]
},
"hconcat":[
{"width":240,"height":244,
"layer":[
{"data":{"name":"a"},"mark":{"type":"line","strokeWidth":2.6,"strokeJoin":"round","strokeCap":"round"},
"encoding":{
"x":{"field":"t","type":"quantitative","scale":{"domain":[0,200],"nice":false},"axis":{"values":[0,50,100,150,200],"title":"time / ms"}},
"y":{"field":"v","type":"quantitative","scale":{"domain":[-20,30],"nice":false},"axis":{"values":[-15,0,15,30],"title":"ΔF/F (%)"}},
"color":{"field":"s","type":"ordinal","scale":{"domain":[1,2,3,4,5,6,7,8,9,10,11],"range":["#000000","#260000","#3e0000","#560000","#760000","#8a0000","#a00000","#b80000","#d00000","#e80000","#ff0a0a"]},"legend":null}
}},
{"data":{"values":[{"t":57,"v":0.2},{"t":67,"v":0.1},{"t":77,"v":0.2},{"t":87,"v":0.1},{"t":97,"v":0.2},{"t":107,"v":0.1},{"t":116,"v":0.2},{"t":125,"v":0.1},{"t":134,"v":0.2}]},
"mark":{"type":"circle","size":12,"color":"#000","opacity":1},
"encoding":{"x":{"field":"t","type":"quantitative"},"y":{"field":"v","type":"quantitative"}}},
{"data":{"values":[{"l":"CD4-HaloTag","t":100,"v":29.7}]},
"mark":{"type":"text","fontSize":24,"font":"Liberation Sans","align":"center","baseline":"middle","color":"#000"},
"encoding":{"x":{"field":"t","type":"quantitative"},"y":{"field":"v","type":"quantitative"},"text":{"field":"l"}}},
{"data":{"values":[{"l":"a)","t":-49,"v":29.6}]},
"mark":{"type":"text","fontSize":25,"font":"Liberation Sans","align":"center","baseline":"middle","color":"#000"},
"encoding":{"x":{"field":"t","type":"quantitative"},"y":{"field":"v","type":"quantitative"},"text":{"field":"l"}}}
]},
{"width":240,"height":244,
"layer":[
{"data":{"name":"b"},"mark":{"type":"line","strokeWidth":2.6,"strokeJoin":"round","strokeCap":"round"},
"encoding":{
"x":{"field":"t","type":"quantitative","scale":{"domain":[0,200],"nice":false},"axis":{"values":[0,50,100,150,200],"title":"time / ms"}},
"y":{"field":"v","type":"quantitative","scale":{"domain":[-20,35.7],"nice":false},"axis":{"values":[-15,0,15,30],"title":"ΔF/F (%)"}},
"color":{"field":"s","type":"ordinal","scale":{"domain":[1,2,3,4,5,6,7,8,9,10,11,12,13,14,15],"range":["#000000","#00002a","#000044","#00005e","#000074","#000086","#000096","#0202a4","#0404b0","#0606b8","#0808c0","#0a0ac4","#0c0cc8","#1010cc","#1414d2"]},"legend":null}
}},
{"data":{"values":[{"l":"pDisplay-HaloTag","t":99,"v":35.3}]},
"mark":{"type":"text","fontSize":24,"font":"Liberation Sans","align":"center","baseline":"middle","color":"#000"},
"encoding":{"x":{"field":"t","type":"quantitative"},"y":{"field":"v","type":"quantitative"},"text":{"field":"l"}}},
{"data":{"values":[{"l":"b)","t":-49,"v":35}]},
"mark":{"type":"text","fontSize":25,"font":"Liberation Sans","align":"center","baseline":"middle","color":"#000"},
"encoding":{"x":{"field":"t","type":"quantitative"},"y":{"field":"v","type":"quantitative"},"text":{"field":"l"}}}
]}
]
}
